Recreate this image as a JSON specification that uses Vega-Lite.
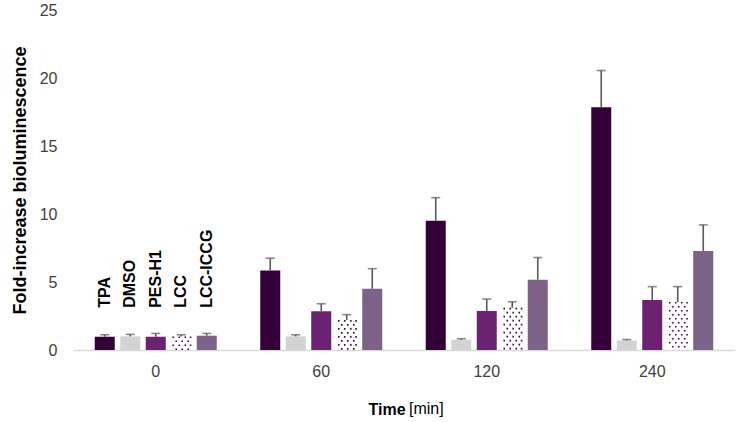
{
  "$schema": "https://vega.github.io/schema/vega-lite/v6.json",
  "width": 662,
  "height": 340,
  "padding": {"left": 11, "top": 2, "right": 1, "bottom": 0},
  "config": {"font": "Liberation Sans", "view": {"stroke": null}},
  "title": {"text": "[min]", "orient": "bottom", "anchor": "start", "frame": "group", "dx": 336, "offset": -16, "fontSize": 16, "fontWeight": "normal", "color": "#000000"},
  "data": {"values": [
    {"time": 0, "series": "TPA", "value": 0.98, "upper": 1.12},
    {"time": 0, "series": "DMSO", "value": 1.0, "upper": 1.15},
    {"time": 0, "series": "PES-H1", "value": 0.98, "upper": 1.22},
    {"time": 0, "series": "LCC", "value": 1.0, "upper": 1.12},
    {"time": 0, "series": "LCC-ICCG", "value": 1.05, "upper": 1.22},
    {"time": 60, "series": "TPA", "value": 5.85, "upper": 6.75},
    {"time": 60, "series": "DMSO", "value": 1.0, "upper": 1.12},
    {"time": 60, "series": "PES-H1", "value": 2.85, "upper": 3.4},
    {"time": 60, "series": "LCC", "value": 2.2, "upper": 2.6},
    {"time": 60, "series": "LCC-ICCG", "value": 4.5, "upper": 5.98},
    {"time": 120, "series": "TPA", "value": 9.5, "upper": 11.2},
    {"time": 120, "series": "DMSO", "value": 0.75, "upper": 0.83},
    {"time": 120, "series": "PES-H1", "value": 2.87, "upper": 3.75},
    {"time": 120, "series": "LCC", "value": 3.1, "upper": 3.55},
    {"time": 120, "series": "LCC-ICCG", "value": 5.17, "upper": 6.8},
    {"time": 240, "series": "TPA", "value": 17.85, "upper": 20.55},
    {"time": 240, "series": "DMSO", "value": 0.7, "upper": 0.77},
    {"time": 240, "series": "PES-H1", "value": 3.68, "upper": 4.66},
    {"time": 240, "series": "LCC", "value": 3.53, "upper": 4.66},
    {"time": 240, "series": "LCC-ICCG", "value": 7.28, "upper": 9.2}
  ]},
  "encoding": {
    "x": {
      "field": "time", "type": "ordinal",
      "scale": {"type": "band", "paddingInner": 0, "paddingOuter": 0},
      "axis": {
        "title": "Time", "titleX": 295, "titleAlign": "left", "titleFontSize": 16, "titleFontWeight": "bold", "titleColor": "#000000", "titlePadding": 22,
        "labelAngle": 0, "labelFontSize": 16, "labelColor": "#404040", "labelPadding": 13,
        "ticks": false, "domainColor": "#d9d9d9", "domainWidth": 1.5, "grid": false
      }
    },
    "xOffset": {
      "field": "series", "type": "nominal",
      "sort": ["TPA", "DMSO", "PES-H1", "LCC", "LCC-ICCG"],
      "scale": {"type": "band", "domain": ["TPA", "DMSO", "PES-H1", "LCC", "LCC-ICCG"], "paddingInner": 0.216, "paddingOuter": 0.853}
    },
    "y": {
      "field": "value", "type": "quantitative",
      "scale": {"domain": [0, 25], "nice": false},
      "axis": {
        "title": "Fold-increase bioluminescence", "titleFontSize": 18, "titleFontWeight": "bold", "titleColor": "#000000", "titlePadding": 10,
        "values": [0, 5, 10, 15, 20, 25], "labelFontSize": 16, "labelColor": "#404040", "labelPadding": 16,
        "domain": false, "ticks": false, "grid": false
      }
    }
  },
  "resolve": {"scale": {"xOffset": "independent"}},
  "layer": [
    {
      "mark": {"type": "bar"},
      "encoding": {
        "color": {
          "field": "series", "type": "nominal", "legend": null,
          "scale": {"domain": ["TPA", "DMSO", "PES-H1", "LCC", "LCC-ICCG"], "range": ["#330038", "#d3d3d3", "#6b2270", "#ffffff", "#7b6286"]}
        }
      }
    },
    {
      "transform": [{"filter": {"field": "series", "equal": "LCC"}}],
      "mark": {"type": "rule", "strokeDash": [1.6, 6.4], "strokeWidth": 1.6, "color": "#3d0a48", "strokeCap": "butt"},
      "encoding": {"xOffset": {"field": "series", "type": "nominal", "scale": {"type": "band", "domain": ["TPA", "DMSO", "PES-H1", "LCC", "LCC-ICCG"], "paddingInner": 0.216, "paddingOuter": 0.853, "align": 0.316}}, "y2": {"datum": 0}}
    },
    {
      "transform": [{"filter": {"field": "series", "equal": "LCC"}}],
      "mark": {"type": "rule", "strokeDash": [1.6, 6.4], "strokeWidth": 1.6, "color": "#3d0a48", "strokeCap": "butt"},
      "encoding": {"xOffset": {"field": "series", "type": "nominal", "scale": {"type": "band", "domain": ["TPA", "DMSO", "PES-H1", "LCC", "LCC-ICCG"], "paddingInner": 0.216, "paddingOuter": 0.853, "align": 0.454}}, "y2": {"datum": 0}}
    },
    {
      "transform": [{"filter": {"field": "series", "equal": "LCC"}}],
      "mark": {"type": "rule", "strokeDash": [1.6, 6.4], "strokeWidth": 1.6, "color": "#3d0a48", "strokeCap": "butt"},
      "encoding": {"xOffset": {"field": "series", "type": "nominal", "scale": {"type": "band", "domain": ["TPA", "DMSO", "PES-H1", "LCC", "LCC-ICCG"], "paddingInner": 0.216, "paddingOuter": 0.853, "align": 0.592}}, "y2": {"datum": 0}}
    },
    {
      "transform": [{"filter": {"field": "series", "equal": "LCC"}}],
      "mark": {"type": "rule", "strokeDash": [1.6, 6.4], "strokeWidth": 1.6, "color": "#3d0a48", "strokeCap": "butt"},
      "encoding": {"xOffset": {"field": "series", "type": "nominal", "scale": {"type": "band", "domain": ["TPA", "DMSO", "PES-H1", "LCC", "LCC-ICCG"], "paddingInner": 0.216, "paddingOuter": 0.853, "align": 0.714}}, "y2": {"datum": 0}}
    },
    {
      "transform": [{"filter": {"field": "series", "equal": "LCC"}}],
      "mark": {"type": "rule", "strokeDash": [1.6, 6.4], "strokeDashOffset": 4, "strokeWidth": 1.6, "color": "#3d0a48", "strokeCap": "butt"},
      "encoding": {"xOffset": {"field": "series", "type": "nominal", "scale": {"type": "band", "domain": ["TPA", "DMSO", "PES-H1", "LCC", "LCC-ICCG"], "paddingInner": 0.216, "paddingOuter": 0.853, "align": 0.385}}, "y2": {"datum": 0}}
    },
    {
      "transform": [{"filter": {"field": "series", "equal": "LCC"}}],
      "mark": {"type": "rule", "strokeDash": [1.6, 6.4], "strokeDashOffset": 4, "strokeWidth": 1.6, "color": "#3d0a48", "strokeCap": "butt"},
      "encoding": {"xOffset": {"field": "series", "type": "nominal", "scale": {"type": "band", "domain": ["TPA", "DMSO", "PES-H1", "LCC", "LCC-ICCG"], "paddingInner": 0.216, "paddingOuter": 0.853, "align": 0.523}}, "y2": {"datum": 0}}
    },
    {
      "transform": [{"filter": {"field": "series", "equal": "LCC"}}],
      "mark": {"type": "rule", "strokeDash": [1.6, 6.4], "strokeDashOffset": 4, "strokeWidth": 1.6, "color": "#3d0a48", "strokeCap": "butt"},
      "encoding": {"xOffset": {"field": "series", "type": "nominal", "scale": {"type": "band", "domain": ["TPA", "DMSO", "PES-H1", "LCC", "LCC-ICCG"], "paddingInner": 0.216, "paddingOuter": 0.853, "align": 0.661}}, "y2": {"datum": 0}}
    },
    {
      "mark": {"type": "rule", "color": "#595959", "strokeWidth": 1.6},
      "encoding": {"y": {"field": "value", "type": "quantitative"}, "y2": {"field": "upper"}}
    },
    {
      "mark": {"type": "tick", "color": "#595959", "size": 9, "thickness": 1.6, "orient": "horizontal"},
      "encoding": {"y": {"field": "upper", "type": "quantitative"}}
    },
    {
      "transform": [{"filter": {"field": "time", "equal": 0}}],
      "mark": {"type": "text", "angle": 270, "align": "left", "baseline": "middle", "fontSize": 16, "fontWeight": "bold", "color": "#000000"},
      "encoding": {"y": {"datum": 3.1, "type": "quantitative"}, "text": {"field": "series"}}
    }
  ]
}
